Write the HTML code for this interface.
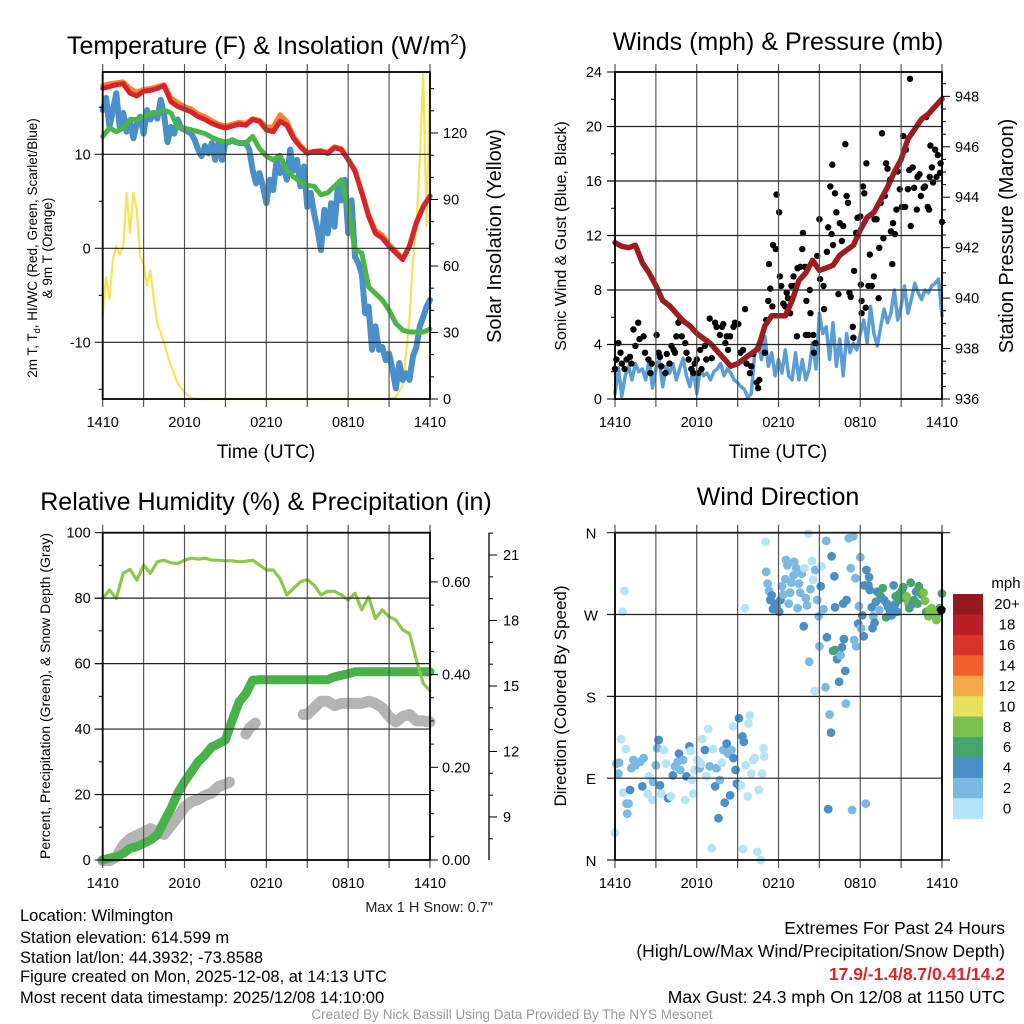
<!DOCTYPE html>
<html><head><meta charset="utf-8"><title>Mesonet Meteogram</title>
<style>
html,body{margin:0;padding:0;background:#fff;}
svg{display:block;font-family:"Liberation Sans",Arial,sans-serif;}
</style></head>
<body>
<svg id="chart" width="1024" height="1024" viewBox="0 0 1024 1024" xmlns="http://www.w3.org/2000/svg">
<rect width="1024" height="1024" fill="#fff"/>
<g id="marks"></g>
<g id="frames"></g>
<text x="267" y="54" font-size="25" text-anchor="middle">Temperature (F) &amp; Insolation (W/m<tspan font-size="15" dy="-10">2</tspan><tspan dy="10">)</tspan></text>
<text x="778" y="50" font-size="25" text-anchor="middle">Winds (mph) &amp; Pressure (mb)</text>
<text x="266" y="510" font-size="25" text-anchor="middle">Relative Humidity (%) &amp; Precipitation (in)</text>
<text x="778" y="505" font-size="25" text-anchor="middle">Wind Direction</text>
<text transform="translate(37,248) rotate(-90)" font-size="13.5" text-anchor="middle">2m T, T<tspan font-size="9" dy="3">d</tspan><tspan dy="-3">, HI/WC (Red, Green, Scarlet/Blue)</tspan></text>
<text transform="translate(52,248) rotate(-90)" font-size="13.5" text-anchor="middle">&amp; 9m T (Orange)</text>
<text transform="translate(501,236) rotate(-90)" font-size="20" text-anchor="middle">Solar Insolation (Yellow)</text>
<text transform="translate(566,236) rotate(-90)" font-size="16" text-anchor="middle">Sonic Wind &amp; Gust (Blue, Black)</text>
<text transform="translate(1013,236) rotate(-90)" font-size="20" text-anchor="middle">Station Pressure (Maroon)</text>
<text transform="translate(50,696) rotate(-90)" font-size="14" text-anchor="middle">Percent, Precipitation (Green), &amp; Snow Depth (Gray)</text>
<text transform="translate(566,696) rotate(-90)" font-size="17" text-anchor="middle">Direction (Colored By Speed)</text>
<text x="266" y="458" font-size="19" text-anchor="middle">Time (UTC)</text>
<text x="778" y="458" font-size="19" text-anchor="middle">Time (UTC)</text>
<text x="493" y="912" font-size="14.5" fill="#222" text-anchor="end">Max 1 H Snow: 0.7"</text>
<g font-size="16.5">
<text x="20" y="921">Location: Wilmington</text>
<text x="20" y="943">Station elevation: 614.599 m</text>
<text x="20" y="963">Station lat/lon: 44.3932; -73.8588</text>
<text x="20" y="982">Figure created on Mon, 2025-12-08, at 14:13 UTC</text>
<text x="20" y="1003">Most recent data timestamp: 2025/12/08 14:10:00</text>
</g>
<g font-size="17.5" text-anchor="end">
<text x="1005" y="934">Extremes For Past 24 Hours</text>
<text x="1005" y="957">(High/Low/Max Wind/Precipitation/Snow Depth)</text>
<text x="1005" y="980" fill="#d8262b" font-weight="bold">17.9/-1.4/8.7/0.41/14.2</text>
<text x="1005" y="1003">Max Gust: 24.3 mph On 12/08 at 1150 UTC</text>
</g>
<text x="512" y="1019" font-size="13.5" fill="#999" text-anchor="middle">Created By Nick Bassill Using Data Provided By The NYS Mesonet</text>
</svg>
<script>
// ---------- DATA ----------
const xTickLabels = ['1410','2010','0210','0810','1410'];
const tempTimes = [0,0.5,1,1.5,2,2.5,3,3.5,4,4.5,5,5.5,6,6.5,7,7.5,8,8.5,9,9.5,10,10.5,11,11.5,12,12.5,13,13.5,14,14.5,15,15.5,16,16.5,17,17.5,18,18.5,19,19.5,20,20.5,21,21.5,22,22.5,23,23.5,24];
const redTemp = [17.0,17.2,17.4,17.5,16.5,16.2,16.7,16.8,17.0,17.3,15.6,15.1,14.8,14.5,14.0,13.7,13.3,13.0,12.8,13.0,13.2,13.1,13.7,13.5,12.6,12.4,13.5,13.1,11.7,10.8,10.1,10.3,10.3,10.1,10.7,10.5,9.4,8.2,5.9,3.4,1.6,1.1,0.2,-0.5,-1.2,0.2,2.7,4.4,5.5];
const orangeTemp = [17.3,17.5,17.6,17.7,17.0,16.6,16.9,17.0,17.2,17.4,16.0,15.5,15.1,14.8,14.3,14.0,13.6,13.2,13.0,13.2,13.4,13.3,13.8,13.6,12.9,12.9,14.2,13.5,11.9,10.9,10.2,10.3,10.4,10.2,10.8,10.6,9.5,8.3,6.0,3.6,1.9,1.4,0.4,-0.3,-1.1,0.3,2.8,4.5,5.6];
const greenDew = [11.9,12.8,12.4,12.8,13.7,13.7,14.0,14.4,14.4,14.7,14.4,12.9,12.8,12.6,12.4,12.2,11.8,11.5,11.3,11.5,11.2,11.2,11.9,10.6,9.8,9.4,9.9,8.3,7.6,7.1,6.7,6.6,5.7,5.9,6.6,7.3,4.4,-0.2,-0.5,-4.1,-4.8,-5.5,-6.6,-8.0,-8.7,-8.9,-8.9,-8.9,-8.6];
const chillTimes = [0,0.25,0.5,0.75,1,1.25,1.5,1.75,2,2.25,2.5,2.75,3,3.25,3.5,3.75,4,4.25,4.5,4.75,5,5.25,5.5,5.75,6,6.25,6.5,6.75,7,7.25,7.5,7.75,8,8.25,8.5,8.75,9,9.25,9.5,9.75,10,10.25,10.5,10.75,11,11.25,11.5,11.75,12,12.25,12.5,12.75,13,13.25,13.5,13.75,14,14.25,14.5,14.75,15,15.25,15.5,15.75,16,16.25,16.5,16.75,17,17.25,17.5,17.75,18,18.25,18.5,18.75,19,19.25,19.5,19.75,20,20.25,20.5,20.75,21,21.25,21.5,21.75,22,22.25,22.5,22.75,23,23.25,23.5,23.75,24];
const blueChill = [14.7,16.0,12.9,14.7,16.5,12.9,14.4,12.4,13.5,11.7,13.3,14.0,12.2,14.7,13.7,14.4,13.8,15.8,14.2,11.3,12.9,12.2,13.7,12.8,12.6,12.4,12.2,11.5,10.5,9.8,10.9,10.1,11.2,9.4,11.3,9.4,11.2,11.3,11.5,11.3,11.2,11.2,11.2,10.5,8.3,6.9,8.0,6.6,4.8,7.3,6.2,9.4,8.0,8.7,7.3,10.5,8.3,9.4,6.6,8.7,4.4,5.9,3.7,2.0,-0.2,4.1,1.6,4.8,2.3,6.6,5.1,7.3,1.6,5.1,-0.9,-1.6,-2.7,-6.9,-6.2,-10.8,-8.3,-10.8,-10.5,-11.9,-11.2,-12.9,-14.9,-12.2,-14.0,-13.3,-14.0,-11.5,-10.5,-8.3,-7.3,-6.2,-5.5];
const solarTimes = [0,0.25,0.5,0.75,1,1.25,1.5,1.75,2,2.25,2.5,2.75,3,3.25,3.5,3.75,4,4.25,4.5,5,5.5,6,6.5,7,10,14,18,21,21.5,22,22.5,22.75,23,23.25,23.5,23.75,24];
const solarVals = [38,55,45,63,69,65,69,93,75,93,85,64,61,51,58,45,34,30,25,15,7,3,0.3,0,0,0,0,0,1,6,36,63,78,108,147,78,145];

const presTimes = tempTimes;
const pressure = [942.2,942.05,942.0,942.1,941.4,941.0,940.5,939.9,939.7,939.4,939.1,938.9,938.6,938.4,938.2,937.9,937.6,937.3,937.4,937.6,937.8,938.0,938.9,939.3,939.3,939.3,939.9,940.7,941.0,941.5,941.1,941.2,941.3,941.7,941.9,942.1,942.7,943.2,943.4,943.9,944.4,945.0,945.5,946.3,946.7,947.1,947.3,947.6,947.9];
const windTimes = chillTimes;
const sonicWind = [0.4,2.3,0.2,1.7,2.4,1.4,2.6,2.0,2.2,1.4,2.9,0.8,2.2,2.9,0.9,2.4,1.9,2.6,1.4,2.2,3.0,1.7,0.9,2.2,0.4,2.2,1.7,1.9,1.4,2.0,2.2,2.6,1.7,2.2,1.9,1.4,1.2,0.9,0.7,0.1,0.4,3.4,4.1,2.9,4.6,2.4,3.4,1.7,2.9,1.9,3.6,1.7,1.4,3.4,1.4,2.9,1.4,2.2,4.1,2.2,6.3,4.8,5.3,2.9,5.6,2.4,4.4,1.7,4.8,3.4,4.1,3.6,4.8,5.8,4.1,6.8,4.8,3.9,5.3,6.6,5.6,6.3,8.0,5.8,6.8,8.3,6.3,7.3,8.5,7.8,7.3,8.0,7.8,8.3,8.5,8.8,6.1];
const gustTimes = [0,0.1,0.25,0.4,0.5,0.7,0.85,1.1,1.2,1.35,1.5,1.7,1.8,2.1,2.2,2.45,2.6,2.7,3.05,3.2,3.3,3.4,3.7,3.8,4.0,4.15,4.3,4.4,4.5,4.65,4.8,4.9,5.15,5.25,5.4,5.6,5.75,5.85,6.0,6.1,6.25,6.35,6.6,6.7,6.95,7.1,7.35,7.45,7.7,7.85,7.95,8.1,8.2,8.3,8.45,8.7,8.8,9.05,9.2,9.4,9.55,9.65,9.9,10.0,10.15,10.4,10.5,10.6,11.0,11.1,11.25,11.3,11.4,11.55,11.6,11.8,11.85,12.05,12.1,12.2,12.35,12.5,12.6,12.7,12.85,12.95,13.1,13.2,13.35,13.4,13.6,13.75,13.8,13.95,14.0,14.05,14.2,14.3,14.35,14.55,14.6,14.7,14.85,15.0,15.05,15.3,15.35,15.55,15.65,15.8,15.9,15.95,16.0,16.15,16.25,16.4,16.5,16.65,16.75,16.9,17.0,17.1,17.2,17.3,17.45,17.5,17.55,17.7,17.8,18.0,18.05,18.1,18.1,18.2,18.3,18.4,18.45,18.6,18.7,18.85,19.0,19.05,19.2,19.35,19.4,19.5,19.6,19.7,19.8,19.9,20.0,20.2,20.25,20.35,20.4,20.55,20.65,20.75,20.9,21.05,21.15,21.3,21.35,21.5,21.6,21.65,21.7,21.85,21.95,22.15,22.2,22.35,22.45,22.65,22.75,22.85,22.95,23.05,23.1,23.15,23.25,23.35,23.5,23.6,23.7,23.85,23.9,24.0];
const gustVals = [2.2,2.9,4.1,3.4,2.6,2.2,2.9,3.1,2.6,5.1,3.9,5.6,4.4,4.6,3.4,2.9,1.9,2.6,4.7,3.4,3.1,2.4,1.9,3.3,2.6,3.9,3.6,3.4,4.6,5.6,5.8,4.6,4.1,3.4,2.9,2.2,1.9,2.6,2.9,1.9,3.6,2.2,3.9,2.9,5.9,3.0,5.6,5.3,4.7,5.3,5.5,4.1,4.6,3.6,4.6,5.3,5.6,5.5,3.4,3.6,6.6,2.6,1.9,2.4,3.3,1.2,0.8,1.4,3.4,5.8,7.2,9.9,8.1,6.8,11.3,11.0,15.0,13.7,9.0,8.3,7.0,6.8,7.8,7.4,6.3,8.3,9.0,8.3,4.6,9.6,9.7,11.0,12.2,9.7,4.7,7.2,4.7,8.0,6.3,4.7,3.4,4.1,10.5,13.2,8.8,8.3,6.6,10.8,12.6,15.6,12.1,17.2,11.3,15.1,13.7,7.7,12.9,11.6,12.7,18.7,14.9,14.4,7.8,7.5,5.3,4.5,9.4,12.2,13.3,13.4,8.4,7.2,6.3,15.6,15.1,6.7,17.3,8.3,10.6,8.3,9.0,13.2,13.2,7.4,11.1,14.4,19.5,11.8,14.9,17.3,16.9,16.1,12.3,9.9,12.9,12.1,13.9,16.7,15.4,14.1,19.3,14.1,18.3,15.4,16.8,23.5,12.7,17.0,15.5,13.9,16.3,16.5,14.9,15.5,15.6,20.7,14.1,13.9,16.3,18.6,17.0,15.9,18.3,16.3,17.9,16.6,17.3,13.0];

const rhTimes = tempTimes;
const rhVals = [79.9,82.5,79.9,87.6,88.8,85.5,90.1,87.6,91.1,91.6,90.8,90.6,91.6,92.2,91.9,92.2,91.6,91.6,91.4,91.4,91.1,91.3,91.6,90.1,88.6,88.6,86.0,81.0,83.0,85.0,85.7,84.0,81.0,82.1,82.1,81.0,79.4,81.5,76.4,80.4,73.8,76.4,74.3,73.3,70.3,69.2,61.1,54.0,51.7];
const precipTimes = [0,0.5,1,1.5,2,2.5,3,3.5,4,4.5,5,5.5,6,6.5,7,7.5,8,8.5,9,9.5,10,10.5,11,11.5,16.5,17,18,18.5,24];
const precipVals = [0,0.004,0.007,0.014,0.025,0.029,0.036,0.043,0.054,0.083,0.111,0.144,0.169,0.19,0.212,0.226,0.244,0.251,0.259,0.302,0.341,0.359,0.388,0.389,0.389,0.395,0.402,0.406,0.406];
const snowTimes = [0,0.5,1,1.5,2,2.5,3,3.5,4,4.5,5,5.5,6,6.5,7,7.5,8,8.5,9,9.3,null,10.5,10.8,11.2,null,14.7,15,15.5,16,16.5,17,17.5,18,18.5,19,19.5,20,20.5,21,21.5,22,22.5,23,23.5,24];
const snowDepth = [7.0,7.0,7.16,7.7,8.0,8.16,8.3,8.46,8.3,8.2,8.6,9.0,9.45,9.7,9.8,9.98,10.1,10.4,10.5,10.6,null,12.8,13.1,13.3,null,13.7,13.7,14.0,14.3,14.3,14.1,14.2,14.2,14.2,14.2,14.3,14.2,14.0,13.6,13.35,13.6,13.7,13.4,13.4,13.35];

const dirTimes = [0,0.7,0.55,0.45,0.8,0.1,0.3,0.25,0.6,1.1,0.85,1.0,0.9,1.2,1.35,1.5,1.85,2.1,2.0,2.4,2.5,2.75,2.8,3.0,3.1,3.2,3.3,3.4,3.6,3.75,3.9,4.1,4.25,4.4,4.6,4.7,4.8,5.0,5.15,5.25,5.45,5.55,5.65,5.75,5.85,6.05,6.2,6.3,6.4,6.6,6.7,6.85,6.95,7.1,7.2,7.35,7.45,7.6,7.7,7.85,7.95,8.05,8.2,8.3,8.45,8.55,8.65,8.7,8.85,8.95,9.1,9.1,9.25,9.35,9.4,9.45,9.6,9.75,9.8,9.9,10.0,10.15,10.25,10.45,10.55,10.7,10.8,10.9,10.95,9.55,
11.05,11.1,11.2,11.3,11.4,11.5,11.6,11.7,11.85,12.05,12.15,12.25,12.35,12.5,12.55,12.65,12.75,12.85,12.95,13.1,13.15,13.3,13.4,13.5,13.6,13.7,13.85,13.9,14.0,14.1,14.2,14.25,14.35,14.45,14.55,14.65,14.7,14.85,14.95,15.0,15.1,15.15,15.3,15.45,15.5,15.55,15.65,15.75,15.85,15.9,16.0,16.15,16.1,16.15,16.3,16.45,16.55,16.65,16.75,16.8,16.9,16.95,17.0,17.15,17.3,17.4,17.5,17.55,17.65,17.7,17.85,17.9,18.0,18.05,18.15,18.25,18.3,18.4,18.45,18.6,18.65,18.7,18.85,18.9,18.95,19.05,19.15,19.25,19.4,19.5,19.65,19.75,19.9,19.95,20.05,20.2,20.3,20.45,20.55,20.6,20.7,20.8,20.9,21.05,21.15,21.3,21.4,21.55,21.6,21.7,21.8,21.85,21.95,22.1,22.2,22.3,22.4,22.5,22.65,22.75,22.85,23.0,23.1,23.25,23.35,23.5,23.6,23.7,23.85,24.0,23.95];
const dirDeg = [30,296,273,133,122,106,107,95,74,77,62,62,51,101,110,104,108,112,81,73,92,66,86,104,123,132,82,73,121,106,68,70,93,103,108,117,99,110,66,92,125,120,88,73,99,110,101,106,133,121,92,144,103,13,122,81,101,46,88,107,121,63,128,117,71,121,147,112,99,84,82,156,82,136,12,130,104,70,150,159,95,110,112,9,77,0,95,123,114,277,
350,317,304,296,286,291,276,282,279,273,286,301,292,309,330,324,282,294,305,313,328,321,277,304,294,315,257,321,288,280,359,218,298,329,308,186,319,286,268,235,301,323,276,190,351,245,56,160,140,334,230,231,312,278,221,196,225,234,282,243,208,172,286,354,321,55,356,242,310,235,260,279,333,255,269,246,302,62,319,302,311,297,278,255,268,261,284,295,275,290,299,286,267,282,278,274,269,302,281,290,273,286,293,296,300,288,290,282,277,305,283,282,286,295,282,301,296,292,294,285,273,268,275,277,271,268,264,271,277,293,275];
const dirSpeed = [1,1,1,1,1,3,3,3,1,5,3,3,3,3,3,3,3,3,5,1,1,1,3,3,3,5,5,1,1,1,5,1,5,3,3,5,3,3,1,5,5,1,1,1,1,1,3,1,1,5,1,1,3,1,1,5,3,5,3,1,3,5,5,3,5,3,1,5,5,5,5,5,1,5,1,5,1,1,1,1,1,1,1,1,1,1,1,1,1,1,
1,3,3,3,5,5,5,5,5,5,5,3,3,3,3,3,3,3,3,3,3,3,3,3,3,3,5,1,3,3,1,3,3,1,1,1,3,3,3,3,5,1,3,3,3,5,5,3,5,5,7,7,5,5,5,5,3,5,5,5,5,3,5,3,3,3,3,3,3,3,5,3,3,3,5,5,5,3,5,5,5,5,5,5,3,5,5,5,3,7,7,5,7,5,5,5,5,5,5,7,5,7,7,7,7,7,9,9,7,7,9,5,7,5,7,7,7,7,9,9,7,9,9,9,9,9,9,9,7,7];
const cbarLabels = ['20+','18','16','14','12','10','8','6','4','2','0'];
const cbarColors = ['#951a1d','#bb1e25','#da3128','#ee5f2a','#f5a847','#e7e05c','#7cc14c','#48a46d','#4a8fc7','#7ab9e4','#b5e3f8'];

// ---------- HELPERS ----------
const NS = 'http://www.w3.org/2000/svg';
const marks = document.getElementById('marks');
const frames = document.getElementById('frames');
function mk(parent, tag, attrs){ const e=document.createElementNS(NS,tag); for(const k in attrs) e.setAttribute(k,attrs[k]); parent.appendChild(e); return e; }
function pathFrom(ts, vs, xf, yf){ let d='',pen=false; for(let i=0;i<ts.length;i++){ if(ts[i]===null||vs[i]===null){pen=false;continue;} d+=(pen?'L':'M')+xf(ts[i]).toFixed(1)+','+yf(vs[i]).toFixed(1); pen=true; } return d; }
function speedColor(s){ let idx=Math.min(10,Math.max(0,Math.floor(s/2))); return cbarColors[10-idx]; }

const L1=102.7,R1=430,L2=615,R2=942;
const xA = t => L1 + t*(R1-L1)/24;
const xB = t => L2 + t*(R2-L2)/24;
const yTemp = v => 248.3 - v*9.4;
const ySolar = v => 399 - v*2.2167;
const yWind = v => 399 - v*13.625;
const yPres = p => 399 - (p-936)*25.22;
const yRH = v => 860 - v*3.273;
const yPrecip = v => 860 - v*463.5;
const ySnow = s => 555 + (21-s)*21.83;
const yDir = d => 860 - d*0.90917;

function frame(name, x0, x1, y0, y1, xf, hLines){
  const g = mk(frames,'g',{});
  
  
  for(let h=0;h<=24;h+=3){
    const ln = mk(g,'line',{x1:xf(h),x2:xf(h),y1:y0-8,y2:y1+8,stroke:'#555','stroke-width':1.2});
    
    
  }
  hLines.forEach(y=>{
    const ln = mk(g,'line',{x1:x0-8,x2:x1,y1:y,y2:y,stroke:'#222','stroke-width':1.2});
    
    
  });
  const r = mk(g,'rect',{x:x0,y:y0,width:x1-x0,height:y1-y0,fill:'none',stroke:'#000','stroke-width':1.8});
  
  
  xTickLabels.forEach((lab,i)=>{
    const t = mk(g,'text',{x:xf(i*6),y:y1+28,'font-size':14.5,'text-anchor':'middle'});
    t.textContent=lab;
    
    
  });
  return g;
}
function tick(g,x1,x2,y){ const l=mk(g,'line',{x1:x1,x2:x2,y1:y,y2:y,stroke:'#000','stroke-width':1});
  
   }
function label(g,x,y,txt,anchor,name){ const t=mk(g,'text',{x:x,y:y+5,'font-size':14.5,'text-anchor':anchor}); t.textContent=txt;
  
   }

// ---------- PANEL 1 ----------
const g1 = frame('temperature', L1, R1, 72, 399, xA, [yTemp(10),yTemp(0),yTemp(-10)]);
[10,0,-10].forEach(v=>label(g1,L1-12,yTemp(v),String(v),'end','temp-tick-label'));
[15,5,-5,-15].forEach(v=>tick(g1,L1-4,L1,yTemp(v)));
for(let s=0;s<=140;s+=10){ tick(g1,R1,R1+(s%30===0?8:4),ySolar(s)); if(s%30===0) label(g1,R1+13,ySolar(s),String(s),'start','solar-tick-label'); }
function series(ts, vs, xf, yf, color, w, name, parent){
  const p = mk(parent||marks,'path',{d:pathFrom(ts,vs,xf,yf),fill:'none',stroke:color,'stroke-width':w,'stroke-linejoin':'round','stroke-linecap':'round'});
  
  
}
const clip1 = mk(marks,'g',{});


series(solarTimes, solarVals, xA, ySolar, '#f7e35a', 2.2, 'solar-insolation-line', clip1);
series(chillTimes, blueChill, xA, yTemp, '#4a8fc9', 6, 'wind-chill-line', clip1);
series(tempTimes, greenDew, xA, yTemp, '#4cb548', 5, 'dewpoint-line', clip1);
series(tempTimes, orangeTemp, xA, yTemp, '#f58230', 5, 'temp-9m-line', clip1);
series(tempTimes, redTemp, xA, yTemp, '#d9232a', 5, 'temp-2m-line', clip1);

// ---------- PANEL 2 ----------
const g2 = frame('winds', L2, R2, 72, 399, xB, [4,8,12,16,20].map(yWind));
for(let v=0;v<=24;v+=2){ tick(g2,L2-(v%4===0?8:4),L2,yWind(v)); if(v%4===0) label(g2,L2-13,yWind(v),String(v),'end','wind-tick-label'); }
for(let p=936;p<=948.9;p+=0.5){ const maj=Math.abs(p%2)<0.01; tick(g2,R2,R2+(maj?8:4),yPres(p)); if(maj) label(g2,R2+13,yPres(p),String(p),'start','pressure-tick-label'); }
series(windTimes, sonicWind, xB, yWind, '#5b9dd6', 3.5, 'sonic-wind-line');
gustTimes.forEach((t,i)=>{
  const c = mk(marks,'circle',{cx:xB(t).toFixed(1),cy:yWind(gustVals[i]).toFixed(1),r:3.2,fill:'#000'});
  
  
});
series(presTimes, pressure, xB, yPres, '#9e1b1e', 5.5, 'pressure-line');

// ---------- PANEL 3 ----------
const g3 = frame('humidity', L1, R1, 532.7, 860, xA, [20,40,60,80].map(yRH));
for(let v=0;v<=100;v+=10){ tick(g3,L1-(v%20===0?8:4),L1,yRH(v)); if(v%20===0) label(g3,L1-12,yRH(v),String(v),'end','rh-tick-label'); }
for(let p=0;p<=0.7;p+=0.05){ const maj=Math.round(p*100)%20===0; tick(g3,R1,R1+(maj?8:4),yPrecip(p)); if(maj) label(g3,R1+12,yPrecip(p),p.toFixed(2),'start','precip-tick-label'); }
const sAx = mk(g3,'line',{x1:489,x2:489,y1:532.7,y2:860,stroke:'#000','stroke-width':1.3});


for(let s=8;s<=22;s++){ tick(g3,489,489+(s%3===0?8:4),ySnow(s)); if(s%3===0) label(g3,503,ySnow(s),String(s),'start','snow-tick-label'); }
series(snowTimes, snowDepth, xA, ySnow, '#b4b4b4', 11, 'snow-depth-line');
series(precipTimes, precipVals, xA, yPrecip, '#48b24a', 9, 'precip-line');
series(rhTimes, rhVals, xA, yRH, '#8dc84a', 3.2, 'rh-line');

// ---------- PANEL 4 ----------
const g4 = frame('direction', L2, R2, 532.7, 860, xB, [yDir(270),yDir(180),yDir(90)]);
[yDir(360),yDir(0)].forEach(y=>{ const l=mk(g4,'line',{x1:L2-8,x2:950,y1:y,y2:y,stroke:'#222','stroke-width':1.2});
  
   });
[['N',360],['W',270],['S',180],['E',90],['N',0]].forEach(a=>{
  const t=mk(g4,'text',{x:591,y:yDir(a[1])+6,'font-size':15,'text-anchor':'middle'}); t.textContent=a[0];
  
  
});
dirTimes.forEach((t,i)=>{
  const c = mk(marks,'circle',{cx:xB(t).toFixed(1),cy:yDir(dirDeg[i]).toFixed(1),r:4.4,fill:speedColor(dirSpeed[i])});
  
  
});
const cb = mk(frames,'g',{});


const cbTop=594, cbH=(818.7-594)/11;
const mph = mk(cb,'text',{x:1006,y:588,'font-size':15,'text-anchor':'middle'}); mph.textContent='mph';


cbarColors.forEach((col,i)=>{
  const r = mk(cb,'rect',{x:953,y:cbTop+i*cbH,width:30,height:cbH+0.4,fill:col});
  
  
  const t = mk(cb,'text',{x:1007,y:cbTop+i*cbH+cbH/2+5,'font-size':15,'text-anchor':'middle'}); t.textContent=cbarLabels[i];
  
  
});
</script>
</body></html>
